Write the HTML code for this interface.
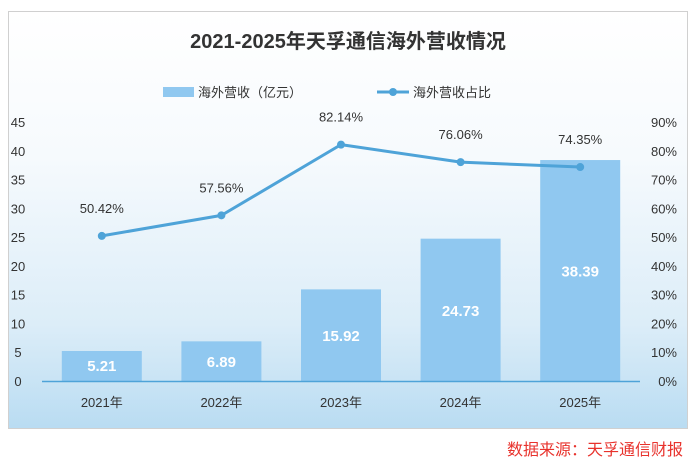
<!DOCTYPE html>
<html><head><meta charset="utf-8"><style>
body{margin:0;width:692px;height:470px;background:#fff;overflow:hidden;font-family:"Liberation Sans","Noto Sans CJK SC",sans-serif}
</style></head><body>
<svg id="c" width="692" height="470" style="position:absolute;left:0;top:0">
<defs><linearGradient id="bg" x1="0" y1="0" x2="0" y2="1">
<stop offset="0" stop-color="#ffffff"/><stop offset="0.35" stop-color="#f6fafd"/><stop offset="0.75" stop-color="#dcedf8"/><stop offset="1" stop-color="#b9dcf2"/></linearGradient></defs>
<rect x="8.5" y="11.5" width="679" height="417" fill="url(#bg)" stroke="#d0d0d0"/>
<text x="348" y="48" text-anchor="middle" font-size="20" font-weight="bold" fill="#333">2021-2025年天孚通信海外营收情况</text>
<g>
<rect x="163" y="87" width="31" height="10" fill="#90c8f0"/>
<text x="198" y="97" font-size="13" fill="#333">海外营收（亿元）</text>
<line x1="377" y1="92" x2="409" y2="92" stroke="#4ea3d8" stroke-width="3"/>
<circle cx="393" cy="92" r="4" fill="#4ea3d8"/>
<text x="413" y="97" font-size="13" fill="#333">海外营收占比</text>
</g>
<g id="plot"></g>
<text x="683" y="455" text-anchor="end" font-size="16" fill="#e8322c">数据来源：天孚通信财报</text>
</svg>
<script>
const categories=["2021年","2022年","2023年","2024年","2025年"];
const revenue=[5.21,6.89,15.92,24.73,38.39];
const share=[50.42,57.56,82.14,76.06,74.35];
const leftTicks=[0,5,10,15,20,25,30,35,40,45];
const rightTicks=[0,10,20,30,40,50,60,70,80,90];
const NS="http://www.w3.org/2000/svg";
const g=document.getElementById('plot');
const x0=42,x1=640,yB=381,yT=122;
const bw=(x1-x0)/categories.length;
const xc=i=>x0+bw*(i+0.5);
const yL=v=>yB-(v/45)*(yB-yT);
const yR=v=>yB-(v/90)*(yB-yT);
function mk(t,a,txt){const e=document.createElementNS(NS,t);for(const k in a)e.setAttribute(k,a[k]);if(txt!==undefined)e.textContent=txt;g.appendChild(e);return e;}
leftTicks.forEach(v=>{const e=mk('text',{x:18,y:yL(v)+5,'text-anchor':'middle','font-size':13,fill:'#333'},v);

});
rightTicks.forEach(v=>{const e=mk('text',{x:677,y:yR(v)+5,'text-anchor':'end','font-size':13,fill:'#333'},v+'%');

});
revenue.forEach((v,i)=>{const b=mk('rect',{x:xc(i)-40,y:yL(v),width:80,height:yB-yL(v),fill:'#90c8f0'});


const ty=Math.max(yL(v)+20,Math.min((yL(v)+yB)/2+6,yB-12));
const t=mk('text',{x:xc(i),y:ty,'text-anchor':'middle','font-size':15,'font-weight':'bold',fill:'#fff'},v.toFixed(2));


const c=mk('text',{x:xc(i),y:yB+26,'text-anchor':'middle','font-size':13,fill:'#333'},categories[i]);

});
const ax=mk('line',{x1:x0,y1:yB+0.5,x2:x1,y2:yB+0.5,stroke:'#4ea3d8','stroke-width':1.5});


const pl=mk('polyline',{points:share.map((v,i)=>xc(i)+','+yR(v)).join(' '),fill:'none',stroke:'#4ea3d8','stroke-width':3,'stroke-linejoin':'round'});


share.forEach((v,i)=>{const c=mk('circle',{cx:xc(i),cy:yR(v),r:4,fill:'#4ea3d8'});


const t=mk('text',{x:xc(i),y:yR(v)-23,'text-anchor':'middle','font-size':13,fill:'#333'},v.toFixed(2)+'%');

});
</script>
</body></html>
